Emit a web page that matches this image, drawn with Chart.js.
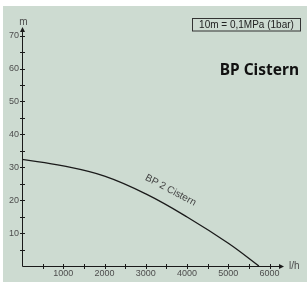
<!DOCTYPE html>
<html>
<head>
<meta charset="utf-8">
<script src="https://cdn.jsdelivr.net/npm/chart.js@4.4.1/dist/chart.umd.min.js"></script>
<style>
  html, body { margin: 0; padding: 0; background: #fff; }
  #wrap { width: 307px; height: 282px; }
</style>
</head>
<body>
<div id="wrap"><canvas id="pumpChart" width="307" height="282"></canvas></div>
<script>
// pump curve
const flow = [0, 1000, 2000, 3000, 4000, 5000, 5740];      // l/h
const head = [32.4, 30.4, 27.3, 21.9, 14.9, 6.9, 0];       // m
const xTickLabels = [1000, 2000, 3000, 4000, 5000, 6000];
const yTickLabels = [10, 20, 30, 40, 50, 60, 70];
const seriesName = 'BP 2 Cistern';

const bg = '#cddbd1';
const ink = '#1a1a1a';
const labelGrey = '#4d4d4d';
const tickFont = { family: 'Liberation Sans, Arial, sans-serif', size: 9 };

// tick marks every 500 l/h and every 5 m
const stepTicks = (max, step) => {
  const out = [];
  for (let v = 0; v <= max; v += step) out.push({ value: v });
  return out;
};

// background + white margin
const backdrop = {
  id: 'backdrop',
  beforeDraw(chart) {
    const c = chart.ctx;
    c.save();
    c.fillStyle = '#fff';
    c.fillRect(0, 0, chart.width, chart.height);
    c.fillStyle = bg;
    c.fillRect(3, 6, chart.width - 3, chart.height - 6);
    c.restore();
  }
};

// axes with arrows, crossing tick marks, texts
const decor = {
  id: 'decor',
  afterDraw(chart) {
    const c = chart.ctx;
    const xs = chart.scales.x, ys = chart.scales.y;
    const a = chart.chartArea;
    const x0 = Math.round(a.left) + 0.5, y0 = Math.round(a.bottom) + 0.5;
    c.save();
    c.strokeStyle = ink; c.fillStyle = ink; c.lineWidth = 1;

    // axis lines
    c.beginPath();
    c.moveTo(x0, y0); c.lineTo(x0, a.top - 1);
    c.moveTo(x0, y0); c.lineTo(a.right + 1, y0);
    c.stroke();
    // arrows
    c.beginPath();
    c.moveTo(x0, a.top - 2); c.lineTo(x0 - 2.5, a.top + 3); c.lineTo(x0 + 2.5, a.top + 3); c.closePath();
    c.fill();
    c.beginPath();
    c.moveTo(a.right + 2, y0); c.lineTo(a.right - 3, y0 - 2.5); c.lineTo(a.right - 3, y0 + 2.5); c.closePath();
    c.fill();

    c.beginPath();
    xs.ticks.forEach(t => {
      if (t.value <= 0) return;
      const px = Math.round(xs.getPixelForValue(t.value)) + 0.5;
      c.moveTo(px, y0 - 2.5); c.lineTo(px, y0 + 2.5);
    });
    ys.ticks.forEach(t => {
      if (t.value <= 0) return;
      const py = Math.round(ys.getPixelForValue(t.value)) + 0.5;
      c.moveTo(x0 - 2.5, py); c.lineTo(x0 + 2.5, py);
    });
    c.stroke();

    // axis titles
    c.fillStyle = labelGrey;
    c.font = '10px Liberation Sans, Arial, sans-serif';
    c.textAlign = 'center'; c.textBaseline = 'alphabetic';
    c.fillText('m', x0 + 1, 25);
    c.textAlign = 'left';
    c.fillText('l/h', 289, 269);

    // series label along the curve
    const lx = xs.getPixelForValue(3600), ly = ys.getPixelForValue(23.0);
    c.save();
    c.translate(lx, ly);
    c.rotate(28 * Math.PI / 180);
    c.font = '10px Liberation Sans, Arial, sans-serif';
    c.fillStyle = '#444';
    c.textAlign = 'center'; c.textBaseline = 'middle';
    c.fillText(seriesName, 0, 0);
    c.restore();

    // unit box
    c.strokeStyle = '#333';
    c.strokeRect(192.5, 18.5, 108, 12.5);
    c.fillStyle = '#222';
    c.font = '10px Liberation Sans, Arial, sans-serif';
    c.textAlign = 'center'; c.textBaseline = 'middle';
    c.fillText('10m = 0,1MPa (1bar)', 246.5, 25.2);

    // product name
    c.fillStyle = '#111';
    c.font = 'bold 15.5px "Noto Sans", "Open Sans", sans-serif';
    c.textAlign = 'right'; c.textBaseline = 'alphabetic';
    c.fillText('BP Cistern', 299, 75);

    c.restore();
  }
};

new Chart(document.getElementById('pumpChart'), {
  type: 'scatter',
  data: {
    datasets: [{
      label: seriesName,
      data: flow.map((q, i) => ({ x: q, y: head[i] })),
      showLine: true,
      borderColor: ink,
      borderWidth: 1.3,
      pointRadius: 0,
      tension: 0.4,
      fill: false
    }]
  },
  options: {
    responsive: false,
    animation: false,
    devicePixelRatio: 1,
    layout: { padding: { top: 29, right: 25, left: 0, bottom: 0 } },
    plugins: { legend: { display: false }, tooltip: { enabled: false } },
    scales: {
      x: {
        type: 'linear', min: 0, max: 6300,
        grid: { display: false, drawTicks: false }, border: { display: false },
        afterBuildTicks: s => { s.ticks = stepTicks(6000, 500); },
        afterFit: s => { s.height = 16; },
        ticks: {
          autoSkip: false, maxRotation: 0, padding: 2,
          color: labelGrey, font: tickFont,
          callback: v => xTickLabels.includes(v) ? String(v) : ''
        }
      },
      y: {
        type: 'linear', min: 0, max: 72,
        grid: { display: false, drawTicks: false }, border: { display: false },
        afterBuildTicks: s => { s.ticks = stepTicks(70, 5); },
        afterFit: s => { s.width = 22; },
        ticks: {
          autoSkip: false, padding: 3,
          color: labelGrey, font: tickFont,
          callback: v => yTickLabels.includes(v) ? String(v) : ''
        }
      }
    }
  },
  plugins: [backdrop, decor]
});
</script>
</body>
</html>
